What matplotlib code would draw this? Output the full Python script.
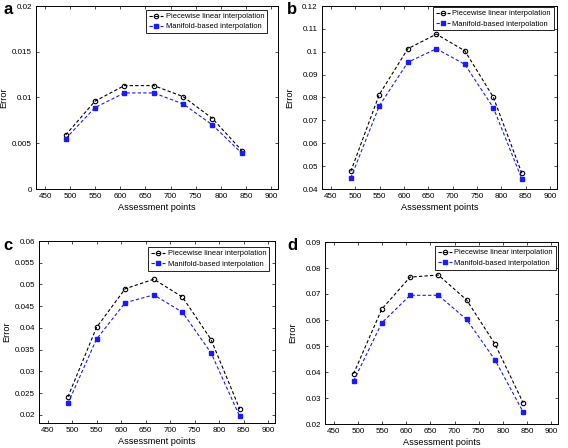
import matplotlib
matplotlib.use("Agg")
import matplotlib.pyplot as plt

plt.rcParams['font.family'] = ['Liberation Sans', 'DejaVu Sans']

x_points = [491, 549.5, 608, 666.5, 725, 783.5, 842]

a_piecewise = [0.0059, 0.0096, 0.0113, 0.0113, 0.0101, 0.0077, 0.0042]
a_manifold = [0.0055, 0.0089, 0.0105, 0.0105, 0.0093, 0.0070, 0.0039]
b_piecewise = [0.0477, 0.0813, 0.1013, 0.1077, 0.1004, 0.0801, 0.0468]
b_manifold = [0.0448, 0.0763, 0.0954, 0.1013, 0.0945, 0.0755, 0.0443]
c_piecewise = [0.0241, 0.0401, 0.0490, 0.0512, 0.0471, 0.0373, 0.0213]
c_manifold = [0.0226, 0.0374, 0.0458, 0.0476, 0.0436, 0.0342, 0.0196]
d_piecewise = [0.0393, 0.0642, 0.0765, 0.0773, 0.0677, 0.0508, 0.0281]
d_manifold = [0.0365, 0.0589, 0.0695, 0.0695, 0.0602, 0.0447, 0.0246]

x_ticks = [450, 500, 550, 600, 650, 700, 750, 800, 850, 900]
a_yticks = [0, 0.005, 0.01, 0.015, 0.02]
a_ylabels = ['0', '0.005', '0.01', '0.015', '0.02']
b_yticks = [0.04, 0.05, 0.06, 0.07, 0.08, 0.09, 0.1, 0.11, 0.12]
b_ylabels = ['0.04', '0.05', '0.06', '0.07', '0.08', '0.09', '0.1', '0.11', '0.12']
c_yticks = [0.02, 0.025, 0.03, 0.035, 0.04, 0.045, 0.05, 0.055, 0.06]
c_ylabels = ['0.02', '0.025', '0.03', '0.035', '0.04', '0.045', '0.05', '0.055', '0.06']
d_yticks = [0.02, 0.03, 0.04, 0.05, 0.06, 0.07, 0.08, 0.09]
d_ylabels = ['0.02', '0.03', '0.04', '0.05', '0.06', '0.07', '0.08', '0.09']

W, H = 568, 448
fig = plt.figure(figsize=(W / 100, H / 100), dpi=100)

panels = [
    ('a', (36, 6, 278, 189), a_piecewise, a_manifold, (0, 0.02), a_yticks, a_ylabels, 3, 10, (267, 10)),
    ('b', (322, 6, 557, 189), b_piecewise, b_manifold, (0.04, 0.12), b_yticks, b_ylabels, 287, 10, (554, 7)),
    ('c', (39, 241, 275, 423), c_piecewise, c_manifold, (0.0181, 0.06), c_yticks, c_ylabels, 3, 245, (269, 247)),
    ('d', (325, 242, 558, 424), d_piecewise, d_manifold, (0.02, 0.09), d_yticks, d_ylabels, 287, 245, (556, 246)),
]

for label, (l, t, r, b), pw, mf, ylim, yt, yl, px, py, (lx, ly) in panels:
    ax = fig.add_axes([l / W, 1 - b / H, (r - l) / W, (b - t) / H])
    ax.plot(x_points, pw, linestyle=(0, (3, 2)), color='black', linewidth=0.8,
            marker='o', markersize=3.2, markerfacecolor='none', markeredgecolor='black',
            markeredgewidth=0.8, label='Piecewise linear interpolation')
    ax.plot(x_points, mf, linestyle=(0, (3, 2)), color='#1a1aff', linewidth=0.8,
            marker='s', markersize=3.2, markerfacecolor='#1a1aff', markeredgecolor='#1a1aff',
            label='Manifold-based interpolation')
    ax.set_xlim(432, 914)
    ax.set_ylim(*ylim)
    ax.set_xticks(x_ticks)
    ax.set_yticks(yt)
    ax.set_yticklabels(yl)
    ax.tick_params(direction='in', top=True, right=True, labelsize=5.8, length=2.5,
                   width=0.5, pad=3)
    for s in ax.spines.values():
        s.set_linewidth(0.7)
    ax.set_xlabel('Assessment points', fontsize=6.6, labelpad=2)
    ax.set_ylabel('Error', fontsize=6.6)
    ax.yaxis.set_label_coords(-28 / (r - l), 0.5)
    leg = ax.legend(loc='upper right', bbox_to_anchor=(lx / W, 1 - ly / H),
                    bbox_transform=fig.transFigure, fontsize=5.4, frameon=True,
                    fancybox=False, edgecolor='black', framealpha=1, borderpad=0.4,
                    labelspacing=0.4, handlelength=1.9, handletextpad=0.3,
                    borderaxespad=0)
    leg.get_frame().set_linewidth(0.6)
    fig.text(px / W, 1 - py / H, label, fontsize=12, fontweight='bold',
             va='center', ha='left')

fig.savefig('out.png', dpi=100)
